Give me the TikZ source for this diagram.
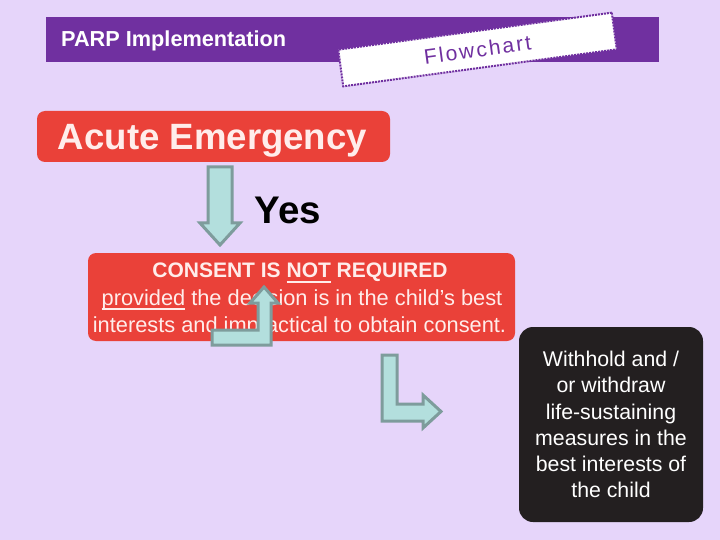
\documentclass[tikz,border=0pt]{standalone}
\usepackage{fontspec}
\setmainfont{Liberation Sans}
\definecolor{bgc}{HTML}{E6D5FA}
\definecolor{hdr}{HTML}{7030A0}
\definecolor{redbox}{HTML}{EA4139}
\definecolor{tealfill}{HTML}{B3DFDD}
\definecolor{tealline}{HTML}{7E9C9C}
\definecolor{darkbox}{HTML}{231F20}
\definecolor{redtext}{HTML}{FFEDEB}
\newcommand\myul[2]{\setbox0\hbox{#2}\rlap{\rule[#1]{\wd0}{1.6pt}}\box0\relax}
\begin{document}
\begin{tikzpicture}[x=1pt,y=-1pt,
  redrect/.style={fill=redbox, rounded corners=8pt, inner sep=0pt},
  blockarrow/.style={fill=tealfill, draw=tealline, line width=3pt, line join=miter},
  txt/.style={inner sep=0pt, anchor=base}]
\fill[bgc] (0,0) rectangle (720,540);
\useasboundingbox (0,0) rectangle (720,540);
% header
\fill[hdr] (46,17) rectangle (659,62);
\node[txt, anchor=base west, text=white, font=\bfseries\fontsize{21.7}{24}\selectfont] (title) at (61,47) {PARP Implementation};
\node[draw=hdr, fill=white, line width=2pt, densely dotted, rotate=7.7,
      minimum width=276pt, minimum height=37pt, inner sep=0pt,
      text=hdr, font=\fontsize{21}{24}\selectfont\addfontfeatures{LetterSpace=10}] (flow) at (477.5,49.5) {Flowchart};
% acute emergency
\node[redrect, minimum width=353pt, minimum height=51pt] (acute) at (213.5,136.5) {};
\node[txt, text=redtext, font=\bfseries\fontsize{36.6}{40}\selectfont] (acutet) at (212.5,150) {Acute Emergency};
% yes arrow
\draw[blockarrow] (208,167) -- (232,167) -- (232,223) -- (240,223) -- (220,245) -- (200,223) -- (208,223) -- cycle;
\node[txt, anchor=base west, font=\bfseries\fontsize{38.5}{40}\selectfont] (yes) at (254.5,223) {Yes};
% consent box
\node[redrect, minimum width=427pt, minimum height=88pt] (consent) at (301.5,297) {};
\node[txt, text=redtext, font=\bfseries\fontsize{21}{24}\selectfont] (c1) at (300,277) {CONSENT IS \myul{-6pt}{NOT} REQUIRED};
\node[txt, text=redtext, font=\fontsize{21.8}{26}\selectfont] (c2) at (302,305) {\myul{-5pt}{provided} the decision is in the child's best};
\node[txt, text=redtext, font=\fontsize{21.8}{26}\selectfont] (c3) at (299.5,332) {interests and impractical to obtain consent.};
% L arrow up
\draw[blockarrow] (212,330) -- (258,330) -- (258,303) -- (250,303) -- (264,287) -- (278,303) -- (271,303) -- (271,345) -- (212,345) -- cycle;
% L arrow right
\draw[blockarrow] (382,355) -- (397,355) -- (397,404) -- (423,404) -- (423,395) -- (441,411.5) -- (423,428) -- (423,421) -- (382,421) -- cycle;
% dark box
\node[fill=darkbox, rounded corners=14pt, minimum width=184pt, minimum height=195pt, inner sep=0pt,
      text=white, align=center, font=\fontsize{21.3}{26.2}\selectfont] (withhold) at (611,424.5)
  {Withhold and /\\or withdraw\\life-sustaining\\measures in the\\best interests of\\the child};
\end{tikzpicture}
\end{document}
